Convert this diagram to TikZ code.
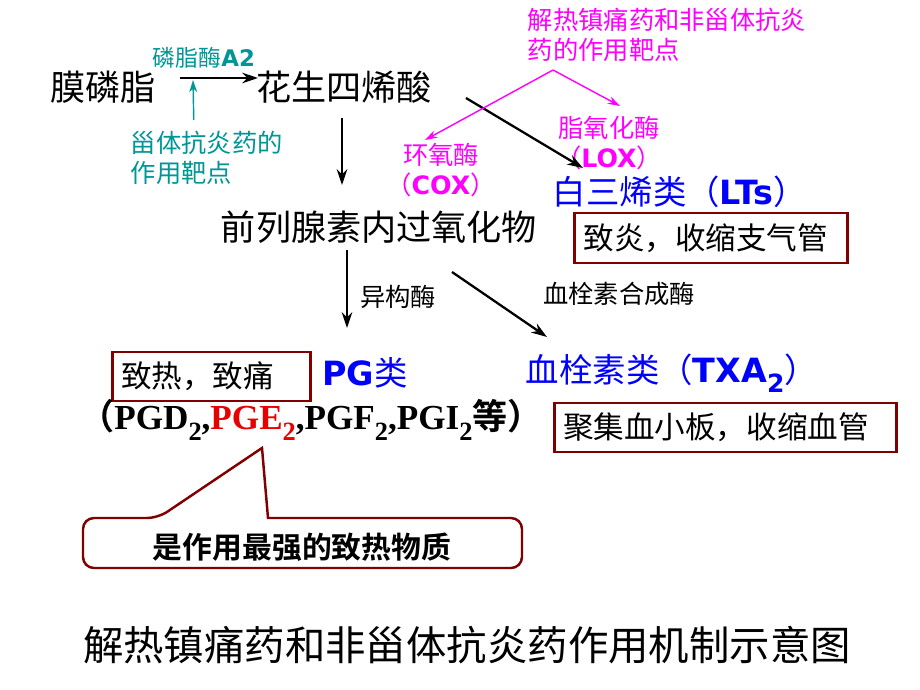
\documentclass[tikz,border=0pt]{standalone}
\usepackage{fontspec}
\usepackage{graphicx}
\usetikzlibrary{calc,arrows.meta}
\newfontfamily\cjk{Noto Sans CJK SC}[BoldFont={Noto Sans CJK SC Bold}]
\newfontfamily\verd{DejaVu Sans}
\newfontfamily\tms{Liberation Serif}
\definecolor{tealc}{RGB}{0,150,150}
\definecolor{magc}{RGB}{255,0,255}
\definecolor{bluec}{RGB}{0,0,255}
\definecolor{boxred}{RGB}{128,0,0}
\definecolor{pgered}{RGB}{230,0,0}
\newcommand{\lowtwo}{\raisebox{-0.3em}{\scalebox{0.75}{2}}}
\tikzset{
  every node/.style={inner sep=2pt},
  big/.style={font=\cjk\fontsize{20}{24}\selectfont},
  tealtxt/.style={text=tealc, font=\cjk\fontsize{14.4}{17}\selectfont},
  magtxt/.style={text=magc, font=\cjk\fontsize{14.4}{17}\selectfont},
  bluetxt/.style={text=bluec, font=\cjk\fontsize{19}{22}\selectfont},
  enztxt/.style={font=\cjk\fontsize{14.4}{17}\selectfont},
  effbox/.style={draw=boxred, line width=1.6pt, inner xsep=5pt, align=left,
    font=\cjk\fontsize{17.4}{20}\selectfont},
  flow/.style={-{Stealth[length=9pt,width=6pt]}, line width=1.3pt},
  tealflow/.style={-{Stealth[length=7pt,width=4.5pt]}, line width=0.8pt, tealc},
  magflow/.style={-{Stealth[length=7pt,width=4.5pt]}, line width=0.8pt, magc}
}
\begin{document}
\begin{tikzpicture}[x=0.02cm, y=-0.02cm]
\useasboundingbox (0,0) rectangle (920,690);
% arachidonic acid
\node[big] (mo) at (103,87) {膜磷脂};
\node[big] (hs) at (344,87) {花生四烯酸};
\node[tealtxt, font=\cjk\fontsize{13}{15}\selectfont] (enz) at (204,58) {磷脂酶{\verd\bfseries A2}};
\node[tealtxt, align=left, anchor=west] (st) at (127,158) {甾体抗炎药的\\作用靶点};
\draw[flow] ($(mo)+(77,-9)$) -- ($(hs)+(-86,-9)$);
\coordinate (pa2) at ($(mo)+(90,-7)$);
\draw[tealflow] ($(st)+(-13,-38)$) -- (pa2);

% COX / LOX targets
\node[magtxt, align=left, anchor=west] (tt) at (524,35) {解热镇痛药和非甾体抗炎\\药的作用靶点};
\coordinate (fork) at ($(tt.west)+(29,35)$);
\node[magtxt, align=center] (cox) at (441,170) {环氧酶\\（{\verd\bfseries COX}）};
\node[magtxt, align=center] (lox) at (609,143) {脂氧化酶\\（{\verd\bfseries LOX}）};
\node[bluetxt] (lt) at (680,192) {白三烯类（{\verd\bfseries LTs}）};
\node[effbox, text width=5.1cm, minimum height=1cm] (yan) at (711,238) {致炎，收缩支气管};
\node[big] (pe) at (379,227) {前列腺素内过氧化物};
\draw[flow] ($(hs)+(-2,31)$) -- ($(pe)+(-37,-42)$);
\draw[flow] ($(hs)+(122,11)$) -- ($(lt)+(-97,-24)$);
\draw[magflow] (fork) -- ($(cox)+(-16,-30)$);
\draw[magflow] (fork) -- ($(lox)+(11,-37)$);

% PG and TXA2
\node[bluetxt] (pg) at (365,373) {{\verd\bfseries PG}类};
\node[bluetxt] (txa) at (672,373) {血栓素类（{\verd\bfseries TXA\lowtwo}）};
\node[enztxt] (yigou) at (398,297) {异构酶};
\node[enztxt] (txs) at (619,294) {血栓素合成酶};
\draw[flow] ($(pe)+(-32,23)$) -- ($(pg)+(-18,-45)$);
\draw[flow] ($(pe)+(73,45)$) -- ($(txa)+(-125,-36)$);
\node[effbox, text width=3.62cm, minimum height=0.98cm] (zr) at (211.5,376.5) {致热，致痛};
\node[font=\tms\bfseries\fontsize{20}{24}\selectfont] (pgl) at (311,420)
  {{\cjk\bfseries （}PGD\lowtwo,\textcolor{pgered}{PGE\lowtwo},PGF\lowtwo,PGI\lowtwo{\cjk\bfseries 等）}};
\node[effbox, text width=6.5cm, minimum height=0.98cm] (jx) at (725.5,427.5) {聚集血小板，收缩血管};

% callout
\draw[boxred, line width=1.4pt, rounded corners=0.22cm] (83,543) -- (83,518) -- (158,518)
  [sharp corners] -- (262,448) -- (268,518) [rounded corners=0.22cm] -- (522,518) -- (522,568) -- (83,568) -- cycle;
\node[font=\cjk\bfseries\fontsize{17}{20}\selectfont] (strong) at (302,547) {是作用最强的致热物质};

\node[font=\cjk\fontsize{23}{27}\selectfont] (title) at (467,645) {解热镇痛药和非甾体抗炎药作用机制示意图};
\end{tikzpicture}
\end{document}
